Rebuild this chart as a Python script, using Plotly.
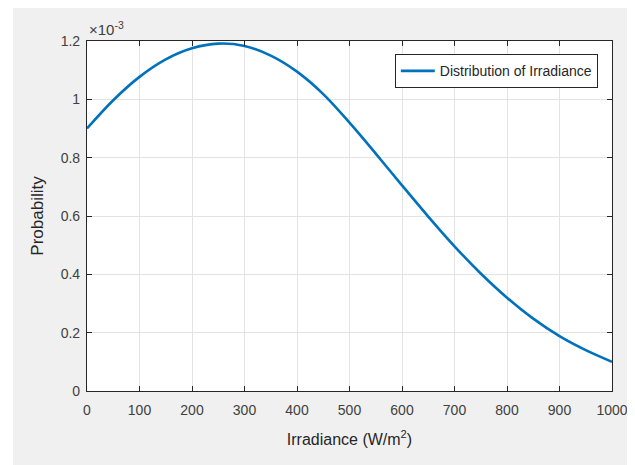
import plotly.graph_objects as go

irradiance = [0, 50, 100, 150, 200, 250, 300, 350, 400, 450, 500,
              550, 600, 650, 700, 750, 800, 850, 900, 950, 1000]
probability = [0.900e-3, 0.997e-3, 1.077e-3, 1.137e-3, 1.175e-3, 1.191e-3, 1.183e-3,
               1.150e-3, 1.095e-3, 1.018e-3, 0.920e-3, 0.814e-3, 0.705e-3, 0.598e-3,
               0.496e-3, 0.403e-3, 0.320e-3, 0.248e-3, 0.188e-3, 0.140e-3, 0.100e-3]
x_ticks = [0, 100, 200, 300, 400, 500, 600, 700, 800, 900, 1000]
y_ticks = [0, 0.2e-3, 0.4e-3, 0.6e-3, 0.8e-3, 1.0e-3, 1.2e-3]
y_ticklabels = ["0", "0.2", "0.4", "0.6", "0.8", "1", "1.2"]

FONT = "Liberation Sans, Arial, sans-serif"
AX = "#262626"
GRID = "#e3e3e3"

fig = go.Figure()
fig.add_trace(go.Scatter(
    x=irradiance, y=probability, mode="lines", line_shape="spline",
    line=dict(color="#0072BD", width=2.6),
    name="Distribution of Irradiance"))

fig.update_layout(
    width=635, height=465,
    margin=dict(l=79, r=31, t=33, b=82),
    paper_bgcolor="#f0f0f0", plot_bgcolor="white",
    font=dict(family=FONT, color="#404040", size=13),
    showlegend=True,
    legend=dict(x=0.973, y=0.962, xanchor="right", yanchor="top",
                bgcolor="white", bordercolor=AX, borderwidth=1,
                font=dict(size=14, color="#262626"),
                itemwidth=34, tracegroupgap=0),
    xaxis=dict(range=[0, 1000], tickvals=x_ticks, ticks="inside", ticklen=5,
               tickcolor=AX, showline=True, linecolor=AX, linewidth=1.2,
               mirror="ticks", showgrid=True, gridcolor=GRID, zeroline=False,
               ticklabelstandoff=6,
               tickfont=dict(size=14, color="#404040"),
               title=dict(text="Irradiance (W/m<sup>2</sup>)", font=dict(size=16, color="#262626"),
                          standoff=16)),
    yaxis=dict(range=[0, 1.2e-3], tickvals=y_ticks, ticktext=y_ticklabels,
               ticks="inside", ticklen=5, tickcolor=AX, showline=True,
               linecolor=AX, linewidth=1.2, mirror="ticks", showgrid=True,
               gridcolor=GRID, zeroline=False,
               ticklabelstandoff=3,
               tickfont=dict(size=14, color="#404040"),
               title=dict(text="Probability", font=dict(size=17, color="#262626"),
                          standoff=12)),
    shapes=[
        dict(type="rect", xref="paper", yref="paper", x0=-0.3, x1=-0.141,
             y0=-0.4, y1=1.3, fillcolor="white", line=dict(width=0), layer="below"),
    ],
    annotations=[dict(text="×10<sup>-3</sup>", xref="paper", yref="paper",
                      x=0.0, y=1.0, xanchor="left", yanchor="bottom", yshift=1,
                      showarrow=False, font=dict(size=15, color="#404040"))],
)

fig.write_html("out.html")
